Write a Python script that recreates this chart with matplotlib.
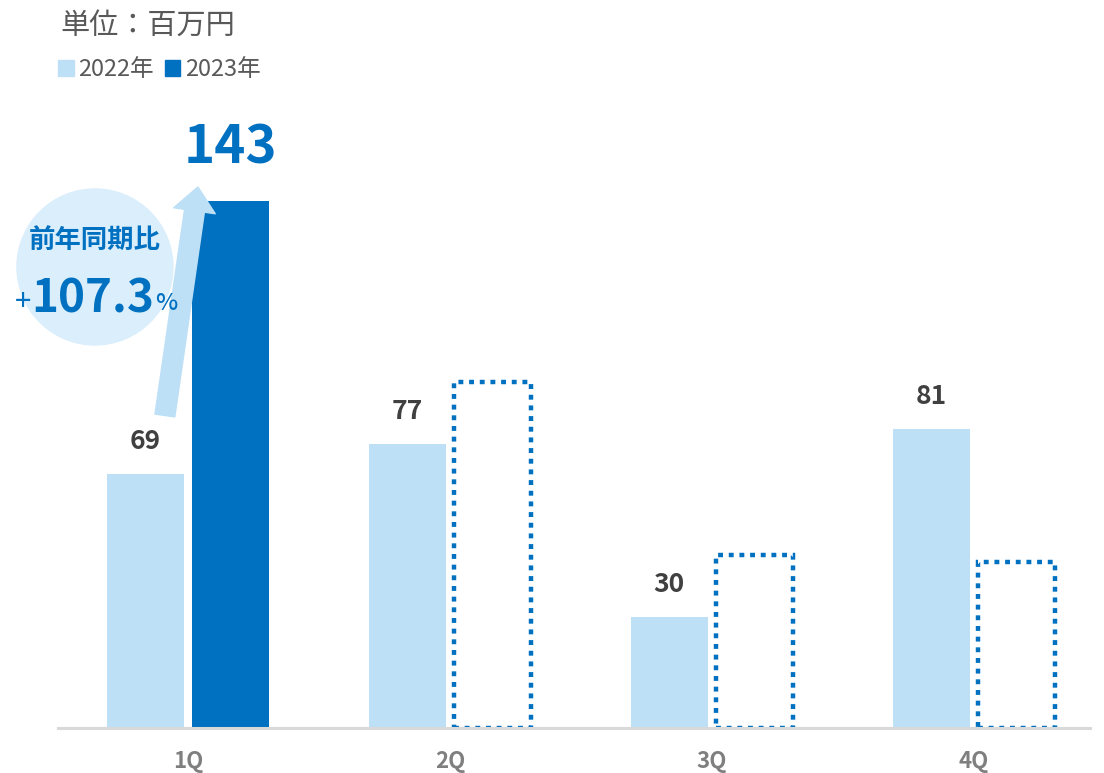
import matplotlib
matplotlib.use("Agg")
import matplotlib.pyplot as plt
import numpy as np
from matplotlib.patches import Ellipse, FancyArrowPatch, Patch

plt.rcParams['font.family'] = ['Noto Sans CJK JP', 'DejaVu Sans']

# data
quarters = ['1Q', '2Q', '3Q', '4Q']
sales_2022 = [69, 77, 30, 81]
sales_2023 = [143]
plan_2023 = [None, 94, 47, 45]   # dotted outline bars (no label)
yoy_text = '107.3'

LIGHT = '#BDE0F7'
DARK = '#0070C0'
CIRCLE = '#DAEEFC'
LABEL = '#404040'
GRAY = '#7F7F7F'

W, H = 1104, 773

def px(x, y):
    # pixel position (from top-left) to figure fraction
    return x / W, 1 - y / H

fig = plt.figure(figsize=(W / 100, H / 100), dpi=100)
ax = fig.add_axes([58 / W, (H - 728) / H, (1090 - 58) / W, (728 - 101.5) / H])

x = np.arange(len(quarters))
bw = 0.294
off = 0.163

ax.bar(x - off, sales_2022, bw, color=LIGHT, zorder=2)
ax.bar(x[:len(sales_2023)] + off, sales_2023, bw, color=DARK, zorder=2)

px_idx = [i for i, v in enumerate(plan_2023) if v is not None]
ax.bar(x[px_idx] + off, [plan_2023[i] for i in px_idx], bw, fill=False,
       edgecolor=DARK, linewidth=3.2, linestyle=(0, (1.1, 1.3)), zorder=2)

for xi, v in zip(x - off, sales_2022):
    ax.annotate(str(v), (xi, v), xytext=(0, 18), textcoords='offset points',
                ha='center', va='baseline', fontsize=19, fontweight='bold',
                color=LABEL)
for xi, v in zip(x[:len(sales_2023)] + off, sales_2023):
    ax.annotate(str(v), (xi, v), xytext=(0, 27), textcoords='offset points',
                ha='center', va='baseline', fontsize=38, fontweight='bold',
                color=DARK)

ax.set_xlim(-0.496, 3.443)
ax.set_ylim(0, 170)
ax.set_xticks(x)
ax.set_xticklabels(quarters, fontsize=16, fontweight='bold', color=GRAY)
ax.tick_params(axis='x', length=0, pad=16)
ax.set_yticks([])
for s in ['top', 'right', 'left']:
    ax.spines[s].set_visible(False)
ax.spines['bottom'].set_color('#D9D9D9')
ax.spines['bottom'].set_linewidth(2.2)

# yoy bubble + arrow
ax.add_patch(Ellipse((-0.355, 125.1), 156 / 262, 156 / 3.685, color=CIRCLE,
                     zorder=3, clip_on=False))
arrow = FancyArrowPatch((-0.088, 84.8), (0.038, 146.8),
                        arrowstyle='simple,head_width=2.1,head_length=1.2,tail_width=1',
                        mutation_scale=14.4, color=LIGHT, shrinkA=0, shrinkB=0,
                        zorder=4, clip_on=False)
ax.add_patch(arrow)

fig.text(*px(95, 240), '前年同期比', ha='center', va='center', fontsize=19,
         fontweight='bold', color=DARK, zorder=5)
fig.text(*px(93, 312), yoy_text, ha='center', va='baseline', fontsize=33,
         fontweight='bold', color=DARK, zorder=5)
fig.text(*px(31, 310), '+', ha='right', va='baseline', fontsize=21,
         color=DARK, zorder=5)
fig.text(*px(155, 310), '%', ha='left', va='baseline', fontsize=17,
         fontweight='medium', color=DARK, zorder=5)

# unit + legend
fig.text(*px(60, 26), '単位：百万円', ha='left', va='center', fontsize=21,
         color='#595959')
handles = [Patch(color=LIGHT, label='2022年'), Patch(color=DARK, label='2023年')]
fig.legend(handles=handles, loc='center left', bbox_to_anchor=px(49, 70),
           ncol=2, frameon=False, handlelength=0.65, handleheight=0.65,
           handletextpad=0.2, columnspacing=0.45, borderaxespad=0,
           prop={'size': 17}, labelcolor='#595959')

fig.savefig('out.png', dpi=100)
